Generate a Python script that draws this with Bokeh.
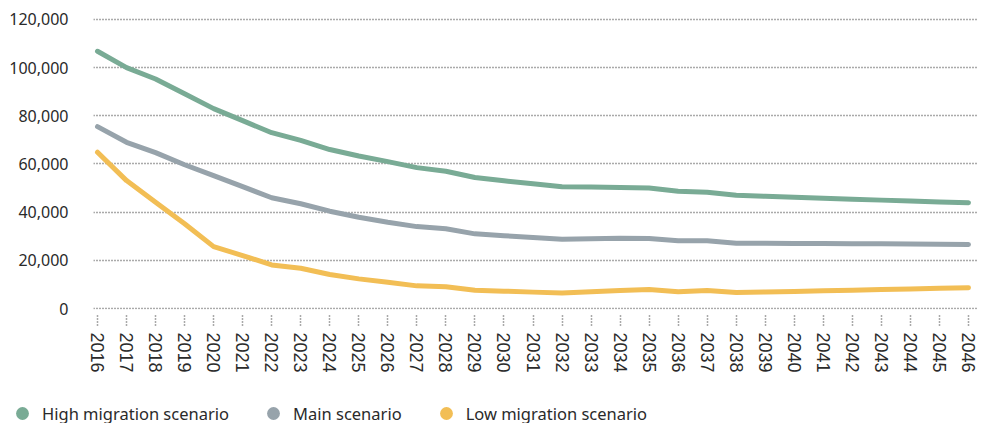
from bokeh.plotting import figure
from bokeh.models import (ColumnDataSource, FixedTicker, NumeralTickFormatter,
                          Range1d, Legend, LegendItem)
from bokeh.embed import file_html
from bokeh.resources import INLINE

years = [2016, 2017, 2018, 2019, 2020, 2021, 2022, 2023, 2024, 2025, 2026,
         2027, 2028, 2029, 2030, 2031, 2032, 2033, 2034, 2035, 2036, 2037,
         2038, 2039, 2040, 2041, 2042, 2043, 2044, 2045, 2046]
high = [106800, 100000, 95300, 89200, 83000, 78000, 73000, 69800, 66000, 63300,
        61000, 58500, 57000, 54400, 53000, 51800, 50600, 50400, 50200, 50000,
        48700, 48300, 47000, 46600, 46200, 45800, 45400, 45000, 44600, 44200, 43900]
main = [75500, 69000, 64700, 59700, 55200, 50600, 46000, 43500, 40400, 37900,
        35800, 34000, 33100, 31000, 30200, 29500, 28800, 29000, 29200, 29100,
        28100, 28100, 27100, 27050, 27000, 26950, 26900, 26850, 26750, 26700, 26600]
low = [64900, 53100, 44100, 35200, 25700, 22000, 18100, 16700, 14100, 12300,
       10900, 9400, 9000, 7600, 7200, 6800, 6400, 7000, 7500, 7900,
       7000, 7500, 6600, 6900, 7100, 7400, 7600, 7900, 8100, 8400, 8600]
y_ticks = [0, 20000, 40000, 60000, 80000, 100000, 120000]
series_keys = ["high", "main", "low"]
series_names = ["High migration scenario", "Main scenario", "Low migration scenario"]
series_colors = ["#79AB95", "#97A3AB", "#F2BE55"]
text_color = "#2a2a2a"

src = ColumnDataSource(dict(year=years, high=high, main=main, low=low))

p = figure(width=977, height=399, output_backend="svg", toolbar_location=None,
           x_range=Range1d(2015.862, 2046.31), y_range=Range1d(-415, 122491),
           min_border_left=93, min_border_top=13, min_border_right=0,
           min_border_bottom=90)
p.outline_line_color = None
p.background_fill_color = "white"
p.border_fill_color = "white"

# grid
p.xgrid.grid_line_color = None
p.ygrid.grid_line_color = "#555555"
p.ygrid.grid_line_dash = "1 2"
p.ygrid.grid_line_width = 1.5
p.ygrid.ticker = FixedTicker(ticks=y_ticks)

# y axis
p.yaxis.ticker = FixedTicker(ticks=y_ticks)
p.yaxis.formatter = NumeralTickFormatter(format="0,0")
p.yaxis.axis_line_color = None
p.yaxis.major_tick_line_color = None
p.yaxis.minor_tick_line_color = None
p.yaxis.major_tick_out = 0
p.yaxis.major_tick_in = 0
p.yaxis.major_label_standoff = 25
p.yaxis.major_label_text_font = "Noto Sans"
p.yaxis.major_label_text_font_size = "16px"
p.yaxis.major_label_text_color = text_color

# x axis
p.xaxis.ticker = FixedTicker(ticks=years)
p.xaxis.axis_line_color = None
p.xaxis.minor_tick_line_color = None
p.xaxis.major_tick_line_color = "#555555"
p.xaxis.major_tick_line_dash = "1 2"
p.xaxis.major_tick_line_width = 1.5
p.xaxis.major_tick_in = -4
p.xaxis.major_tick_out = 16
p.xaxis.major_label_orientation = "vertical"
p.xaxis.major_label_standoff = 7
p.xaxis.major_label_text_font = "Liberation Sans"
p.xaxis.major_label_text_font_size = "18px"
p.xaxis.major_label_text_color = text_color

for col, color in zip(series_keys, series_colors):
    p.line("year", col, source=src, line_color=color, line_width=5,
           line_join="round", line_cap="round")

# legend strip (separate root figure so that the legend is not clipped)
lg = figure(width=977, height=24, output_backend="svg", toolbar_location=None,
            x_range=Range1d(2015.862, 2046.31), y_range=Range1d(-415, 122491),
            min_border=0, x_axis_type=None, y_axis_type=None)
lg.outline_line_color = None
lg.xgrid.visible = False
lg.ygrid.visible = False
lg.background_fill_color = "white"
lg.border_fill_color = "white"

items = []
for col, name, color in zip(series_keys, series_names, series_colors):
    dot = lg.scatter("year", col, source=src, size=0, fill_color=color,
                     line_color=None, marker="circle")
    items.append(LegendItem(label=name, renderers=[dot]))

legend = Legend(items=items, orientation="horizontal", location=(6, -6),
                glyph_width=32, glyph_height=32, label_standoff=4, spacing=28,
                padding=0, margin=0, border_line_color=None,
                background_fill_alpha=0,
                label_text_font="Noto Sans", label_text_font_size="16.5px",
                label_text_color=text_color)
lg.add_layout(legend, "center")

open("out.html", "w").write(file_html([p, lg], INLINE))
